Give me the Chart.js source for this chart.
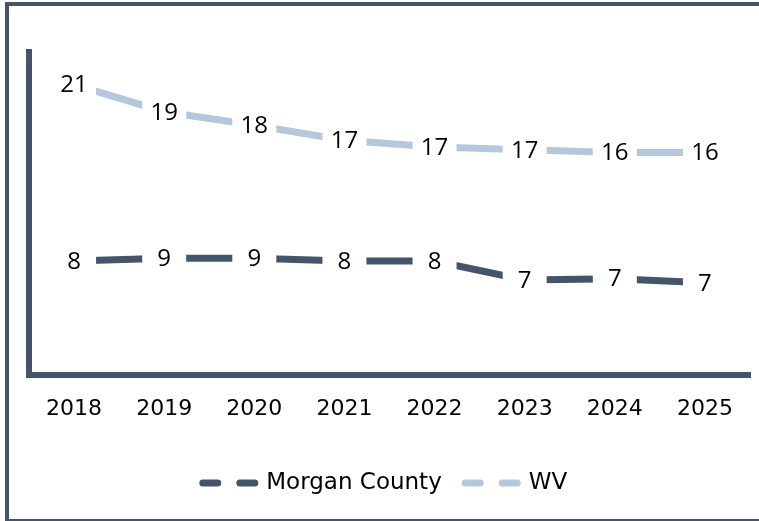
<!DOCTYPE html>
<html>
<head>
<meta charset="utf-8">
<script src="https://cdn.jsdelivr.net/npm/chart.js@4.4.1/dist/chart.umd.min.js"></script>
<style>
  html, body { margin: 0; padding: 0; background: #fff; overflow: hidden; }
  .frame {
    position: absolute; left: 5px; top: 2px;
    width: 900px; height: 521px;
    box-sizing: border-box;
    border: 4px solid #44546a;
  }
  #chart { position: absolute; left: 0; top: 0; }
</style>
</head>
<body>
<div class="frame"></div>
<canvas id="chart" width="759" height="521"></canvas>
<script>
const years = ["2018", "2019", "2020", "2021", "2022", "2023", "2024", "2025"];
const morganCounty = [8.4, 8.6, 8.6, 8.4, 8.4, 7.0, 7.1, 6.8];
const wv = [21.4, 19.4, 18.4, 17.3, 16.8, 16.6, 16.4, 16.4];
const yMin = 0;
const yMax = 23.8;

const darkColor = "#44546a";
const lightColor = "#b4c7dc";

// rounded value labels sitting on the points, white box hides the line under them
const valueLabels = {
  id: "valueLabels",
  afterDatasetsDraw(chart) {
    const ctx = chart.ctx;
    ctx.save();
    ctx.font = "24px 'Open Sans'";
    ctx.textAlign = "center";
    ctx.textBaseline = "middle";
    chart.data.datasets.forEach((ds, i) => {
      chart.getDatasetMeta(i).data.forEach((pt, j) => {
        ctx.fillStyle = "#fff";
        ctx.fillRect(pt.x - 22, pt.y - 11, 44, 22);
        ctx.fillStyle = "#000";
        ctx.fillText(String(Math.round(ds.data[j])), pt.x, pt.y + 1);
      });
    });
    ctx.restore();
  }
};

new Chart(document.getElementById("chart"), {
  type: "line",
  data: {
    labels: years,
    datasets: [
      {
        label: "Morgan County",
        data: morganCounty,
        borderColor: darkColor,
        backgroundColor: darkColor,
        borderWidth: 7,
        pointRadius: 0,
        tension: 0
      },
      {
        label: "WV",
        data: wv,
        borderColor: lightColor,
        backgroundColor: lightColor,
        borderWidth: 7,
        pointRadius: 0,
        tension: 0
      }
    ]
  },
  options: {
    responsive: false,
    animation: false,
    devicePixelRatio: 1,
    layout: { padding: { left: 20, right: 9, top: 52, bottom: 16.5 } },
    scales: {
      x: {
        offset: true,
        grid: { display: false, drawTicks: false },
        border: { display: true, color: darkColor, width: 6 },
        ticks: {
          color: "#000",
          font: { family: "DejaVu Sans", size: 22 },
          padding: 21,
          maxRotation: 0,
          autoSkip: false
        },
        afterFit(scale) { scale.height = 73; }
      },
      y: {
        min: yMin,
        max: yMax,
        grid: { display: false, drawTicks: false },
        border: { display: true, color: darkColor, width: 6 },
        ticks: { display: false },
        afterFit(scale) { scale.width = 9; }
      }
    },
    plugins: {
      tooltip: { enabled: false },
      legend: {
        position: "bottom",
        labels: {
          usePointStyle: true,
          pointStyleWidth: 52,
          padding: 23.5,
          font: { family: "DejaVu Sans", size: 23 },
          generateLabels(chart) {
            return chart.data.datasets.map((ds, i) => ({
              text: ds.label,
              datasetIndex: i,
              pointStyle: "line",
              strokeStyle: ds.borderColor,
              fillStyle: ds.borderColor,
              lineWidth: 7,
              lineDash: [15, 22],
              lineCap: "round",
              fontColor: "#000",
              hidden: false
            }));
          }
        }
      }
    }
  },
  plugins: [valueLabels]
});
</script>
</body>
</html>
